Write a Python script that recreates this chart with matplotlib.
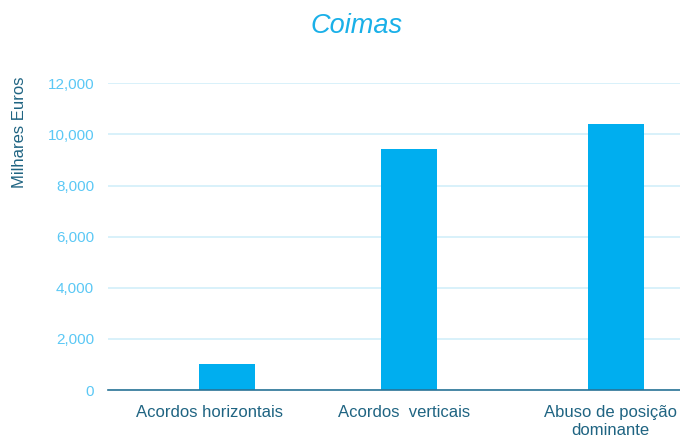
import matplotlib
matplotlib.use("Agg")
import matplotlib.pyplot as plt
import numpy as np

plt.rcParams['font.family'] = ['Liberation Sans', 'DejaVu Sans']

categories = ["Acordos horizontais", "Acordos  verticais", "Abuso de posição\ndominante"]
values = [1020, 9430, 10410]
yticks = [0, 2000, 4000, 6000, 8000, 10000, 12000]

# layout (pixel-like x units, matching the original spacing)
bar_x = [227, 409, 616]
label_x = [209.5, 404.5, 610]

W, H = 680, 442
fig = plt.figure(figsize=(W / 100, H / 100), dpi=100)
ax = fig.add_axes([108 / W, (H - 390) / H, (680 - 108) / W, (390 - 83.3) / H])

ax.bar(bar_x, values, width=56, color='#00aeef', zorder=3)
ax.set_xlim(108, 680)
ax.set_ylim(0, 12000)

ax.set_yticks(yticks)
ax.set_yticklabels(["{:,}".format(t) for t in yticks], color='#5bc8f5', fontsize=11)
ax.tick_params(axis='y', length=0, pad=10)
ax.set_xticks(label_x)
ax.set_xticklabels(categories, color='#1f6482', fontsize=12, linespacing=1.25)
ax.tick_params(axis='x', length=0, pad=11)

ax.grid(axis='y', color='#d2eff9', linewidth=1.2, zorder=0)
for s in ['top', 'right', 'left']:
    ax.spines[s].set_visible(False)
ax.spines['bottom'].set_color('#2a7396')
ax.spines['bottom'].set_linewidth(1.2)
ax.spines['bottom'].set_zorder(4)

fig.text(20 / W, 1 - 132 / H, "Milhares Euros", rotation=90, ha='center', va='center',
         color='#1f6482', fontsize=12)
fig.text(357 / W, 1 - 26 / H, "Coimas", ha='center', va='center', style='italic',
         color='#1ab0e8', fontsize=19.5)

fig.savefig("out.png", dpi=100)
